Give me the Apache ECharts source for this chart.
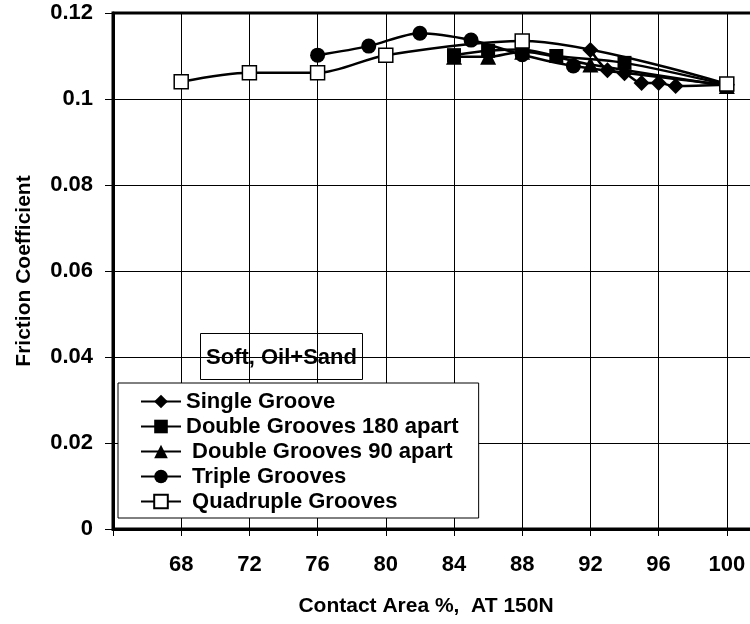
<!DOCTYPE html>
<html>
<head>
<meta charset="utf-8">
<script src="https://cdn.jsdelivr.net/npm/echarts@6/dist/echarts.min.js"></script>
<style>
html,body{margin:0;padding:0;background:#fff;}
#chart{width:750px;height:624px;}
</style>
</head>
<body>
<div id="chart"></div>
<script>
// Data
const singleX = [92, 93, 94, 95, 96, 97, 100];
const singleY = [0.1114, 0.1067, 0.1060, 0.1037, 0.1037, 0.1030, 0.1033];

const double180X = [84, 86, 88, 90, 94, 100];
const double180Y = [0.1102, 0.1112, 0.1115, 0.1100, 0.1084, 0.1033];

const double90X = [84, 86, 88, 92, 100];
const double90Y = [0.1098, 0.1098, 0.1110, 0.1080, 0.1030];

const tripleX = [76, 79, 82, 85, 88, 91, 100];
const tripleY = [0.1102, 0.1123, 0.1153, 0.1137, 0.1103, 0.1077, 0.1033];

const quadX = [68, 72, 76, 80, 88, 100];
const quadY = [0.1040, 0.1061, 0.1061, 0.1102, 0.1135, 0.1035];

const seriesNames = ['Single Groove', 'Double Grooves 180 apart', ' Double Grooves 90 apart', ' Triple Grooves', ' Quadruple Grooves'];
const xAxisTitle = 'Contact Area %,  AT 150N';
const yAxisTitle = 'Friction Coefficient';
const noteText = 'Soft, Oil+Sand';

function pairs(xs, ys) { return xs.map((x, i) => [x, ys[i]]); }

const FONT = '"Liberation Sans", Arial, sans-serif';
const chart = echarts.init(document.getElementById('chart'));

function mkSeries(name, data, symbol, size, fill) {
  return {
    name: name,
    type: 'line',
    data: data,
    smooth: 0.3,
    symbol: symbol,
    symbolSize: size,
    showAllSymbol: true,
    lineStyle: { color: '#000', width: 2.5 },
    itemStyle: { color: fill, borderColor: '#000', borderWidth: fill === '#fff' ? 1.5 : 0 },
    emphasis: { disabled: true },
    z: 3
  };
}

chart.setOption({
  animation: false,
  backgroundColor: '#fff',
  grid: {
    left: 113, top: 13, right: -45, bottom: 95,
    outerBoundsMode: 'none', containLabel: false,
    show: true, borderColor: '#000', borderWidth: 3, backgroundColor: 'transparent'
  },
  xAxis: {
    type: 'value', min: 64, max: 104, interval: 4,
    name: xAxisTitle, nameLocation: 'middle', nameGap: 67,
    nameTextStyle: { fontFamily: FONT, fontWeight: 'bold', fontSize: 21, color: '#000', padding: [0, 56, 0, 0] },
    axisLine: { show: true, lineStyle: { color: '#000', width: 3 } },
    axisTick: { show: true, length: 7, inside: false, lineStyle: { color: '#000', width: 1 } },
    axisLabel: {
      margin: 25, fontFamily: FONT, fontWeight: 'bold', fontSize: 22, color: '#000',
      formatter: function (v) { return (v === 64 || v === 104) ? '' : String(v); }
    },
    splitLine: { show: true, lineStyle: { color: '#000', width: 1 } }
  },
  yAxis: {
    type: 'value', min: 0, max: 0.12, interval: 0.02,
    name: yAxisTitle, nameLocation: 'middle', nameGap: 78, nameRotate: 90,
    nameTextStyle: { fontFamily: FONT, fontWeight: 'bold', fontSize: 21, color: '#000' },
    axisLine: { show: true, lineStyle: { color: '#000', width: 3 } },
    axisTick: { show: true, length: 8, inside: false, lineStyle: { color: '#000', width: 1 } },
    axisLabel: { margin: 20, fontFamily: FONT, fontWeight: 'bold', fontSize: 22, color: '#000' },
    splitLine: { show: true, lineStyle: { color: '#000', width: 1 } }
  },
  legend: {
    orient: 'vertical', left: 118, top: 383,
    backgroundColor: '#fff', borderColor: '#000', borderWidth: 1,
    padding: [6, 20, 4, 22],
    itemWidth: 40, itemHeight: 17, itemGap: 0,
    textStyle: { fontFamily: FONT, fontWeight: 'bold', fontSize: 22, color: '#000', lineHeight: 25 },
    data: seriesNames,
    selectedMode: false
  },
  graphic: [
    {
      type: 'group', left: 200, top: 333, z: 10,
      children: [
        { type: 'rect', shape: { x: 0, y: 0, width: 162, height: 46 },
          style: { fill: '#fff', stroke: '#000', lineWidth: 1 } },
        { type: 'text', x: 81, y: 24,
          style: { text: noteText, fontFamily: FONT, fontWeight: 'bold', fontSize: 22, fill: '#000',
                   align: 'center', verticalAlign: 'middle' } }
      ]
    }
  ],
  series: [
    mkSeries(seriesNames[0], pairs(singleX, singleY), 'diamond', 16, '#000'),
    mkSeries(seriesNames[1], pairs(double180X, double180Y), 'rect', 14, '#000'),
    mkSeries(seriesNames[2], pairs(double90X, double90Y), 'triangle', 16, '#000'),
    mkSeries(seriesNames[3], pairs(tripleX, tripleY), 'circle', 15, '#000'),
    mkSeries(seriesNames[4], pairs(quadX, quadY), 'rect', 14, '#fff')
  ]
});
</script>
</body>
</html>
